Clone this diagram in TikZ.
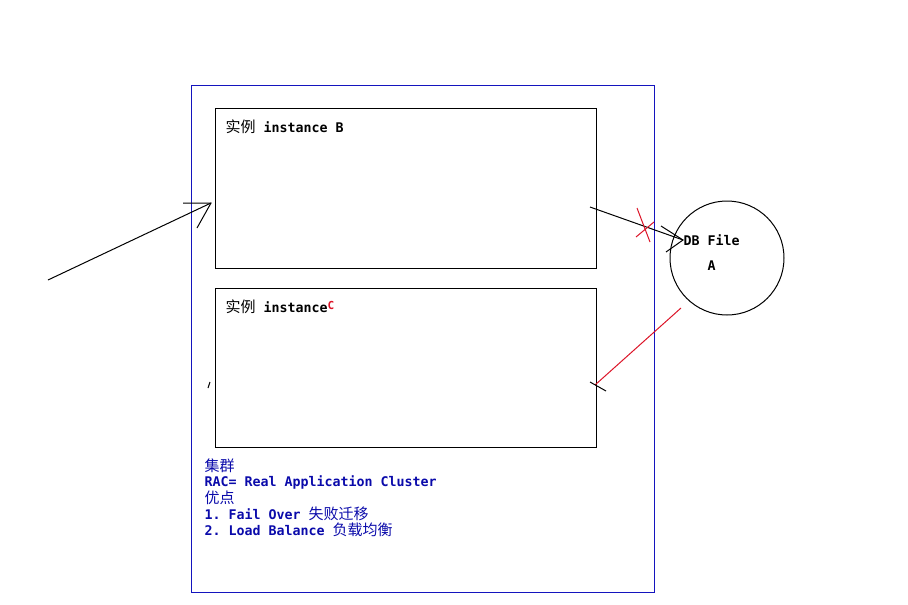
\documentclass[tikz,border=0pt]{standalone}
\usepackage{fontspec}
\setmonofont{DejaVu Sans Mono}
\newfontfamily\cjk{Noto Sans CJK SC}
\usepackage{tikz}

\definecolor{frameblue}{RGB}{20,20,190}
\definecolor{textblue}{RGB}{10,10,170}
\definecolor{markred}{RGB}{220,20,40}

\newcommand{\zh}[1]{{\cjk\mdseries\fontsize{15}{15}\selectfont #1}}

\tikzset{
  instbox/.style={draw=black, line width=1pt, minimum width=381pt, minimum height=160pt, anchor=north west, inner sep=0pt},
  lbl/.style={anchor=west, inner sep=0pt, font=\fontsize{13.3}{14}\selectfont\ttfamily\bfseries},
  notes/.style={lbl, text=textblue}
}

\begin{document}
\begin{tikzpicture}[x=1pt, y=-1pt, line width=1pt]
             \useasboundingbox (0,0) rectangle (908,605);

             % cluster frame and the two instances
             \node[draw=frameblue, minimum width=463pt, minimum height=507pt, anchor=north west, inner sep=0pt] (rac) at (191,85) {};
             \node[instbox] (instB) at (215,108) {};
             \node[instbox, minimum height=159pt] (instC) at (215,288) {};
             \node[lbl] (nameB) at (225,127) {\zh{实例} instance B};
             \node[lbl] (nameC) at (225,307) {\zh{实例} instance\raisebox{3pt}{\textcolor{markred}{\fontsize{11}{11}\selectfont C}}};

             % shared storage
             \node[draw, circle, minimum size=114pt, inner sep=0pt] (db) at (727,258) {};
             \node[lbl] (dbfile) at (683,240) {DB File};
             \node[lbl] (dbA) at (707,266) {A};

             % client connection
             \coordinate (client) at (48,280);
             \coordinate (tipB) at (211,203);
             \draw (client) -- (tipB);
             \draw (183,203) -- (tipB) -- (197,228);

             % instance B to the database, cut
             \coordinate (outB) at (590,207);
             \draw (outB) -- (dbfile.west);
             \draw (661,226) -- (dbfile.west) -- (666,252);
             \draw[markred] (637,208) -- (650,242);
             \draw[markred] (636,237) -- (654,222);

             % failover to instance C
             \coordinate (fromdb) at (681,308);
             \coordinate (toC) at (595,385);
             \draw[markred] (fromdb) -- (toC);
             \draw (590,382) -- (606,391);
             \draw (208,388) -- (210,382);

             % notes
             \node[notes] (n1) at (204,466) {\zh{集群}};
             \node[notes] (n2) at (204,482) {RAC= Real Application Cluster};
             \node[notes] (n3) at (204,498) {\zh{优点}};
             \node[notes] (n4) at (204,514) {1. Fail Over \zh{失败迁移}};
             \node[notes] (n5) at (204,530) {2. Load Balance \zh{负载均衡}};
\end{tikzpicture}
\end{document}
